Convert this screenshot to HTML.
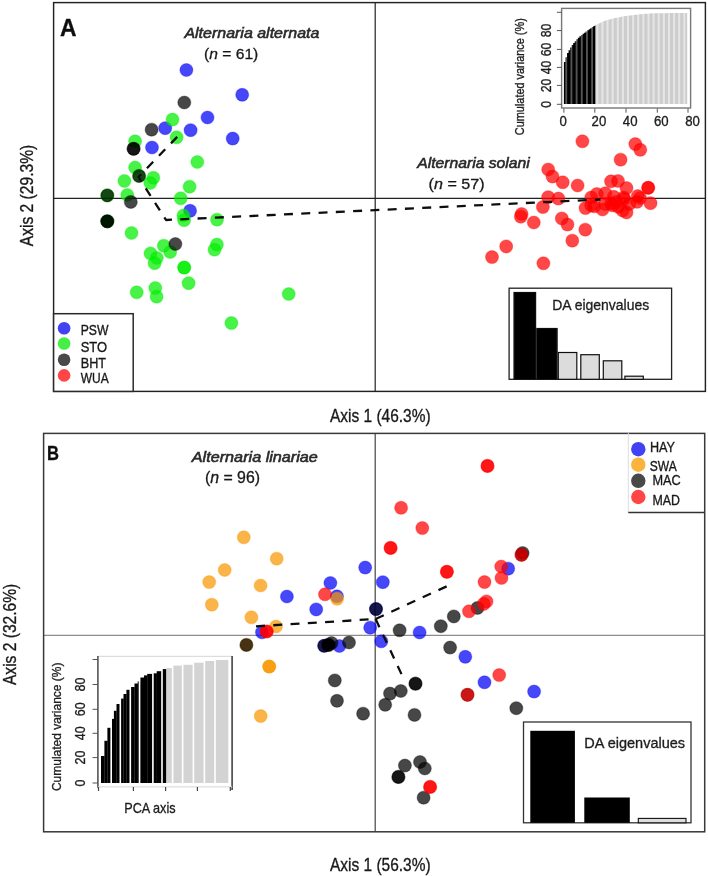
<!DOCTYPE html>
<html><head><meta charset="utf-8"><style>
html,body{margin:0;padding:0;background:#fff;}
svg{display:block;}
text{font-family:"Liberation Sans", sans-serif;}
</style></head><body>
<svg width="708" height="876" viewBox="0 0 708 876">
<defs><filter id="bl" x="0" y="0" width="1" height="1"><feGaussianBlur stdDeviation="0.35"/></filter></defs>
<rect width="708" height="876" fill="#fff"/>
<g filter="url(#bl)">
<rect width="708" height="876" fill="#fff"/>
<line x1="53.6" y1="198.3" x2="705.4" y2="198.3" stroke="#222" stroke-width="1.2"/>
<line x1="375.2" y1="2.6" x2="375.2" y2="391.4" stroke="#222" stroke-width="1.2"/>
<circle cx="186.4" cy="70.0" r="6.5" fill="#0000f8" fill-opacity="0.72" stroke="#0000f8" stroke-opacity="0.3" stroke-width="1.2"/>
<circle cx="242.2" cy="94.8" r="6.5" fill="#0000f8" fill-opacity="0.72" stroke="#0000f8" stroke-opacity="0.3" stroke-width="1.2"/>
<circle cx="207.5" cy="117.5" r="6.5" fill="#0000f8" fill-opacity="0.72" stroke="#0000f8" stroke-opacity="0.3" stroke-width="1.2"/>
<circle cx="165.2" cy="128.2" r="6.5" fill="#0000f8" fill-opacity="0.72" stroke="#0000f8" stroke-opacity="0.3" stroke-width="1.2"/>
<circle cx="190.6" cy="130.2" r="6.5" fill="#0000f8" fill-opacity="0.72" stroke="#0000f8" stroke-opacity="0.3" stroke-width="1.2"/>
<circle cx="232.7" cy="138.6" r="6.5" fill="#0000f8" fill-opacity="0.72" stroke="#0000f8" stroke-opacity="0.3" stroke-width="1.2"/>
<circle cx="152.0" cy="147.5" r="6.5" fill="#0000f8" fill-opacity="0.72" stroke="#0000f8" stroke-opacity="0.3" stroke-width="1.2"/>
<circle cx="190.1" cy="210.8" r="6.5" fill="#0000f8" fill-opacity="0.72" stroke="#0000f8" stroke-opacity="0.3" stroke-width="1.2"/>
<circle cx="172.5" cy="119.6" r="6.5" fill="#00ee00" fill-opacity="0.72" stroke="#00ee00" stroke-opacity="0.3" stroke-width="1.2"/>
<circle cx="176.6" cy="137.3" r="6.5" fill="#00ee00" fill-opacity="0.72" stroke="#00ee00" stroke-opacity="0.3" stroke-width="1.2"/>
<circle cx="135.1" cy="141.3" r="6.5" fill="#00ee00" fill-opacity="0.72" stroke="#00ee00" stroke-opacity="0.3" stroke-width="1.2"/>
<circle cx="197.3" cy="162.0" r="6.5" fill="#00ee00" fill-opacity="0.72" stroke="#00ee00" stroke-opacity="0.3" stroke-width="1.2"/>
<circle cx="135.1" cy="167.5" r="6.5" fill="#00ee00" fill-opacity="0.72" stroke="#00ee00" stroke-opacity="0.3" stroke-width="1.2"/>
<circle cx="153.4" cy="177.8" r="6.5" fill="#00ee00" fill-opacity="0.72" stroke="#00ee00" stroke-opacity="0.3" stroke-width="1.2"/>
<circle cx="150.3" cy="183.0" r="6.5" fill="#00ee00" fill-opacity="0.72" stroke="#00ee00" stroke-opacity="0.3" stroke-width="1.2"/>
<circle cx="124.4" cy="181.0" r="6.5" fill="#00ee00" fill-opacity="0.72" stroke="#00ee00" stroke-opacity="0.3" stroke-width="1.2"/>
<circle cx="189.6" cy="186.7" r="6.5" fill="#00ee00" fill-opacity="0.72" stroke="#00ee00" stroke-opacity="0.3" stroke-width="1.2"/>
<circle cx="127.3" cy="195.0" r="6.5" fill="#00ee00" fill-opacity="0.72" stroke="#00ee00" stroke-opacity="0.3" stroke-width="1.2"/>
<circle cx="180.7" cy="198.3" r="6.5" fill="#00ee00" fill-opacity="0.72" stroke="#00ee00" stroke-opacity="0.3" stroke-width="1.2"/>
<circle cx="183.4" cy="215.5" r="6.5" fill="#00ee00" fill-opacity="0.72" stroke="#00ee00" stroke-opacity="0.3" stroke-width="1.2"/>
<circle cx="184.1" cy="220.2" r="6.5" fill="#00ee00" fill-opacity="0.72" stroke="#00ee00" stroke-opacity="0.3" stroke-width="1.2"/>
<circle cx="217.0" cy="219.7" r="6.5" fill="#00ee00" fill-opacity="0.72" stroke="#00ee00" stroke-opacity="0.3" stroke-width="1.2"/>
<circle cx="131.5" cy="233.0" r="6.5" fill="#00ee00" fill-opacity="0.72" stroke="#00ee00" stroke-opacity="0.3" stroke-width="1.2"/>
<circle cx="163.8" cy="245.7" r="6.5" fill="#00ee00" fill-opacity="0.72" stroke="#00ee00" stroke-opacity="0.3" stroke-width="1.2"/>
<circle cx="170.2" cy="252.0" r="6.5" fill="#00ee00" fill-opacity="0.72" stroke="#00ee00" stroke-opacity="0.3" stroke-width="1.2"/>
<circle cx="150.5" cy="253.4" r="6.5" fill="#00ee00" fill-opacity="0.72" stroke="#00ee00" stroke-opacity="0.3" stroke-width="1.2"/>
<circle cx="156.8" cy="258.0" r="6.5" fill="#00ee00" fill-opacity="0.72" stroke="#00ee00" stroke-opacity="0.3" stroke-width="1.2"/>
<circle cx="154.6" cy="263.2" r="6.5" fill="#00ee00" fill-opacity="0.72" stroke="#00ee00" stroke-opacity="0.3" stroke-width="1.2"/>
<circle cx="216.9" cy="244.6" r="6.5" fill="#00ee00" fill-opacity="0.72" stroke="#00ee00" stroke-opacity="0.3" stroke-width="1.2"/>
<circle cx="214.5" cy="249.7" r="6.5" fill="#00ee00" fill-opacity="0.72" stroke="#00ee00" stroke-opacity="0.3" stroke-width="1.2"/>
<circle cx="184.2" cy="267.6" r="6.5" fill="#00ee00" fill-opacity="0.72" stroke="#00ee00" stroke-opacity="0.3" stroke-width="1.2"/>
<circle cx="188.6" cy="283.2" r="6.5" fill="#00ee00" fill-opacity="0.72" stroke="#00ee00" stroke-opacity="0.3" stroke-width="1.2"/>
<circle cx="136.7" cy="292.3" r="6.5" fill="#00ee00" fill-opacity="0.72" stroke="#00ee00" stroke-opacity="0.3" stroke-width="1.2"/>
<circle cx="155.3" cy="288.0" r="6.5" fill="#00ee00" fill-opacity="0.72" stroke="#00ee00" stroke-opacity="0.3" stroke-width="1.2"/>
<circle cx="156.6" cy="296.7" r="6.5" fill="#00ee00" fill-opacity="0.72" stroke="#00ee00" stroke-opacity="0.3" stroke-width="1.2"/>
<circle cx="288.7" cy="294.0" r="6.5" fill="#00ee00" fill-opacity="0.72" stroke="#00ee00" stroke-opacity="0.3" stroke-width="1.2"/>
<circle cx="231.4" cy="323.1" r="6.5" fill="#00ee00" fill-opacity="0.72" stroke="#00ee00" stroke-opacity="0.3" stroke-width="1.2"/>
<circle cx="139.1" cy="175.9" r="6.5" fill="#00ee00" fill-opacity="0.72" stroke="#00ee00" stroke-opacity="0.3" stroke-width="1.2"/>
<circle cx="107.3" cy="195.4" r="6.5" fill="#00ee00" fill-opacity="0.72" stroke="#00ee00" stroke-opacity="0.3" stroke-width="1.2"/>
<circle cx="107.3" cy="221.3" r="6.5" fill="#00ee00" fill-opacity="0.72" stroke="#00ee00" stroke-opacity="0.3" stroke-width="1.2"/>
<circle cx="184.2" cy="267.6" r="6.5" fill="#00ee00" fill-opacity="0.72" stroke="#00ee00" stroke-opacity="0.3" stroke-width="1.2"/>
<circle cx="184.3" cy="102.5" r="6.5" fill="#000000" fill-opacity="0.72" stroke="#000000" stroke-opacity="0.3" stroke-width="1.2"/>
<circle cx="151.6" cy="129.7" r="6.5" fill="#000000" fill-opacity="0.72" stroke="#000000" stroke-opacity="0.3" stroke-width="1.2"/>
<circle cx="133.6" cy="148.8" r="6.5" fill="#000000" fill-opacity="0.72" stroke="#000000" stroke-opacity="0.3" stroke-width="1.2"/>
<circle cx="133.6" cy="148.8" r="6.5" fill="#000000" fill-opacity="0.72" stroke="#000000" stroke-opacity="0.3" stroke-width="1.2"/>
<circle cx="139.1" cy="175.9" r="6.5" fill="#000000" fill-opacity="0.72" stroke="#000000" stroke-opacity="0.3" stroke-width="1.2"/>
<circle cx="107.3" cy="195.4" r="6.5" fill="#000000" fill-opacity="0.72" stroke="#000000" stroke-opacity="0.3" stroke-width="1.2"/>
<circle cx="130.8" cy="201.9" r="6.5" fill="#000000" fill-opacity="0.72" stroke="#000000" stroke-opacity="0.3" stroke-width="1.2"/>
<circle cx="107.3" cy="221.3" r="6.5" fill="#000000" fill-opacity="0.72" stroke="#000000" stroke-opacity="0.3" stroke-width="1.2"/>
<circle cx="107.3" cy="221.3" r="6.5" fill="#000000" fill-opacity="0.72" stroke="#000000" stroke-opacity="0.3" stroke-width="1.2"/>
<circle cx="175.4" cy="244.0" r="6.5" fill="#000000" fill-opacity="0.72" stroke="#000000" stroke-opacity="0.3" stroke-width="1.2"/>
<circle cx="582.4" cy="141.3" r="6.5" fill="#ff0000" fill-opacity="0.72" stroke="#ff0000" stroke-opacity="0.3" stroke-width="1.2"/>
<circle cx="635.3" cy="144.1" r="6.5" fill="#ff0000" fill-opacity="0.72" stroke="#ff0000" stroke-opacity="0.3" stroke-width="1.2"/>
<circle cx="640.3" cy="149.8" r="6.5" fill="#ff0000" fill-opacity="0.72" stroke="#ff0000" stroke-opacity="0.3" stroke-width="1.2"/>
<circle cx="620.6" cy="159.7" r="6.5" fill="#ff0000" fill-opacity="0.72" stroke="#ff0000" stroke-opacity="0.3" stroke-width="1.2"/>
<circle cx="548.2" cy="169.5" r="6.5" fill="#ff0000" fill-opacity="0.72" stroke="#ff0000" stroke-opacity="0.3" stroke-width="1.2"/>
<circle cx="552.5" cy="176.6" r="6.5" fill="#ff0000" fill-opacity="0.72" stroke="#ff0000" stroke-opacity="0.3" stroke-width="1.2"/>
<circle cx="562.7" cy="182.3" r="6.5" fill="#ff0000" fill-opacity="0.72" stroke="#ff0000" stroke-opacity="0.3" stroke-width="1.2"/>
<circle cx="577.6" cy="185.5" r="6.5" fill="#ff0000" fill-opacity="0.72" stroke="#ff0000" stroke-opacity="0.3" stroke-width="1.2"/>
<circle cx="611.0" cy="181.3" r="6.5" fill="#ff0000" fill-opacity="0.72" stroke="#ff0000" stroke-opacity="0.3" stroke-width="1.2"/>
<circle cx="618.0" cy="181.0" r="6.5" fill="#ff0000" fill-opacity="0.72" stroke="#ff0000" stroke-opacity="0.3" stroke-width="1.2"/>
<circle cx="626.5" cy="188.1" r="6.5" fill="#ff0000" fill-opacity="0.72" stroke="#ff0000" stroke-opacity="0.3" stroke-width="1.2"/>
<circle cx="648.2" cy="187.8" r="6.5" fill="#ff0000" fill-opacity="0.72" stroke="#ff0000" stroke-opacity="0.3" stroke-width="1.2"/>
<circle cx="648.2" cy="187.8" r="6.5" fill="#ff0000" fill-opacity="0.72" stroke="#ff0000" stroke-opacity="0.3" stroke-width="1.2"/>
<circle cx="548.2" cy="197.2" r="6.5" fill="#ff0000" fill-opacity="0.72" stroke="#ff0000" stroke-opacity="0.3" stroke-width="1.2"/>
<circle cx="558.4" cy="198.6" r="6.5" fill="#ff0000" fill-opacity="0.72" stroke="#ff0000" stroke-opacity="0.3" stroke-width="1.2"/>
<circle cx="542.9" cy="207.1" r="6.5" fill="#ff0000" fill-opacity="0.72" stroke="#ff0000" stroke-opacity="0.3" stroke-width="1.2"/>
<circle cx="521.6" cy="214.0" r="6.5" fill="#ff0000" fill-opacity="0.72" stroke="#ff0000" stroke-opacity="0.3" stroke-width="1.2"/>
<circle cx="520.8" cy="216.7" r="6.5" fill="#ff0000" fill-opacity="0.72" stroke="#ff0000" stroke-opacity="0.3" stroke-width="1.2"/>
<circle cx="533.8" cy="222.5" r="6.5" fill="#ff0000" fill-opacity="0.72" stroke="#ff0000" stroke-opacity="0.3" stroke-width="1.2"/>
<circle cx="561.8" cy="218.4" r="6.5" fill="#ff0000" fill-opacity="0.72" stroke="#ff0000" stroke-opacity="0.3" stroke-width="1.2"/>
<circle cx="567.5" cy="224.6" r="6.5" fill="#ff0000" fill-opacity="0.72" stroke="#ff0000" stroke-opacity="0.3" stroke-width="1.2"/>
<circle cx="585.3" cy="229.7" r="6.5" fill="#ff0000" fill-opacity="0.72" stroke="#ff0000" stroke-opacity="0.3" stroke-width="1.2"/>
<circle cx="572.3" cy="240.7" r="6.5" fill="#ff0000" fill-opacity="0.72" stroke="#ff0000" stroke-opacity="0.3" stroke-width="1.2"/>
<circle cx="506.2" cy="246.4" r="6.5" fill="#ff0000" fill-opacity="0.72" stroke="#ff0000" stroke-opacity="0.3" stroke-width="1.2"/>
<circle cx="492.0" cy="257.1" r="6.5" fill="#ff0000" fill-opacity="0.72" stroke="#ff0000" stroke-opacity="0.3" stroke-width="1.2"/>
<circle cx="543.4" cy="263.3" r="6.5" fill="#ff0000" fill-opacity="0.72" stroke="#ff0000" stroke-opacity="0.3" stroke-width="1.2"/>
<circle cx="591.2" cy="197.5" r="6.5" fill="#ff0000" fill-opacity="0.72" stroke="#ff0000" stroke-opacity="0.3" stroke-width="1.2"/>
<circle cx="596.8" cy="194.0" r="6.5" fill="#ff0000" fill-opacity="0.72" stroke="#ff0000" stroke-opacity="0.3" stroke-width="1.2"/>
<circle cx="605.3" cy="193.3" r="6.5" fill="#ff0000" fill-opacity="0.72" stroke="#ff0000" stroke-opacity="0.3" stroke-width="1.2"/>
<circle cx="613.8" cy="196.8" r="6.5" fill="#ff0000" fill-opacity="0.72" stroke="#ff0000" stroke-opacity="0.3" stroke-width="1.2"/>
<circle cx="623.7" cy="197.5" r="6.5" fill="#ff0000" fill-opacity="0.72" stroke="#ff0000" stroke-opacity="0.3" stroke-width="1.2"/>
<circle cx="637.8" cy="196.1" r="6.5" fill="#ff0000" fill-opacity="0.72" stroke="#ff0000" stroke-opacity="0.3" stroke-width="1.2"/>
<circle cx="585.5" cy="208.1" r="6.5" fill="#ff0000" fill-opacity="0.72" stroke="#ff0000" stroke-opacity="0.3" stroke-width="1.2"/>
<circle cx="591.2" cy="205.3" r="6.5" fill="#ff0000" fill-opacity="0.72" stroke="#ff0000" stroke-opacity="0.3" stroke-width="1.2"/>
<circle cx="602.5" cy="209.5" r="6.5" fill="#ff0000" fill-opacity="0.72" stroke="#ff0000" stroke-opacity="0.3" stroke-width="1.2"/>
<circle cx="612.4" cy="205.3" r="6.5" fill="#ff0000" fill-opacity="0.72" stroke="#ff0000" stroke-opacity="0.3" stroke-width="1.2"/>
<circle cx="618.0" cy="206.7" r="6.5" fill="#ff0000" fill-opacity="0.72" stroke="#ff0000" stroke-opacity="0.3" stroke-width="1.2"/>
<circle cx="626.5" cy="212.4" r="6.5" fill="#ff0000" fill-opacity="0.72" stroke="#ff0000" stroke-opacity="0.3" stroke-width="1.2"/>
<circle cx="637.1" cy="201.8" r="6.5" fill="#ff0000" fill-opacity="0.72" stroke="#ff0000" stroke-opacity="0.3" stroke-width="1.2"/>
<circle cx="650.5" cy="203.2" r="6.5" fill="#ff0000" fill-opacity="0.72" stroke="#ff0000" stroke-opacity="0.3" stroke-width="1.2"/>
<circle cx="629.3" cy="203.9" r="6.5" fill="#ff0000" fill-opacity="0.72" stroke="#ff0000" stroke-opacity="0.3" stroke-width="1.2"/>
<circle cx="594.3" cy="206.3" r="6.5" fill="#ff0000" fill-opacity="0.72" stroke="#ff0000" stroke-opacity="0.3" stroke-width="1.2"/>
<circle cx="611.2" cy="203.4" r="6.5" fill="#ff0000" fill-opacity="0.72" stroke="#ff0000" stroke-opacity="0.3" stroke-width="1.2"/>
<circle cx="622.5" cy="210.5" r="6.5" fill="#ff0000" fill-opacity="0.72" stroke="#ff0000" stroke-opacity="0.3" stroke-width="1.2"/>
<circle cx="624.0" cy="199.0" r="6.5" fill="#ff0000" fill-opacity="0.72" stroke="#ff0000" stroke-opacity="0.3" stroke-width="1.2"/>
<circle cx="616.0" cy="202.0" r="6.5" fill="#ff0000" fill-opacity="0.72" stroke="#ff0000" stroke-opacity="0.3" stroke-width="1.2"/>
<circle cx="640.0" cy="198.0" r="6.5" fill="#ff0000" fill-opacity="0.72" stroke="#ff0000" stroke-opacity="0.3" stroke-width="1.2"/>
<circle cx="605.0" cy="204.0" r="6.5" fill="#ff0000" fill-opacity="0.72" stroke="#ff0000" stroke-opacity="0.3" stroke-width="1.2"/>
<polyline points="180,134 138.5,177 166,220 600.5,199.5" fill="none" stroke="#111" stroke-width="2.3" stroke-dasharray="9 8.3" stroke-dashoffset="-4" stroke-linejoin="round"/>
<rect x="53.6" y="2.6" width="651.8" height="388.79999999999995" fill="none" stroke="#222" stroke-width="1.45"/>
<text x="0" y="0" font-size="22" font-weight="bold" font-style="normal" text-anchor="start" fill="#111" stroke="#111" stroke-width="0.3" textLength="16.5" lengthAdjust="spacingAndGlyphs" transform="translate(60,35.6) scale(1,1.1)" >A</text>
<text x="184.4" y="37.8" font-size="14.5" font-weight="normal" font-style="italic" text-anchor="start" fill="#2a2a2a" stroke="#2a2a2a" stroke-width="0.55" textLength="135" lengthAdjust="spacingAndGlyphs" >Alternaria alternata</text>
<text x="204" y="59.2" font-size="15" font-weight="normal" font-style="normal" text-anchor="start" fill="#1a1a1a" stroke="#1a1a1a" stroke-width="0.3" textLength="54.3" lengthAdjust="spacingAndGlyphs" >(<tspan font-style="italic">n</tspan> = 61)</text>
<text x="417.2" y="167.5" font-size="14.5" font-weight="normal" font-style="italic" text-anchor="start" fill="#2a2a2a" stroke="#2a2a2a" stroke-width="0.55" textLength="112.6" lengthAdjust="spacingAndGlyphs" >Alternaria solani</text>
<text x="428.6" y="188.8" font-size="15" font-weight="normal" font-style="normal" text-anchor="start" fill="#1a1a1a" stroke="#1a1a1a" stroke-width="0.3" textLength="56" lengthAdjust="spacingAndGlyphs" >(<tspan font-style="italic">n</tspan> = 57)</text>
<rect x="53.6" y="313.7" width="79.6" height="77.69999999999999" fill="#fff" stroke="#2a2a2a" stroke-width="1.5"/>
<circle cx="64.1" cy="328.3" r="6.3" fill="#4343f2"/>
<text x="0" y="0" font-size="12.6" font-weight="normal" font-style="normal" text-anchor="start" fill="#1a1a1a" stroke="#1a1a1a" stroke-width="0.3" textLength="27.7" lengthAdjust="spacingAndGlyphs" transform="translate(80.7,334.5) scale(1,1.17)" >PSW</text>
<circle cx="64.1" cy="343.5" r="6.3" fill="#44ef44"/>
<text x="0" y="0" font-size="12.6" font-weight="normal" font-style="normal" text-anchor="start" fill="#1a1a1a" stroke="#1a1a1a" stroke-width="0.3" textLength="26.4" lengthAdjust="spacingAndGlyphs" transform="translate(80.7,352) scale(1,1.17)" >STO</text>
<circle cx="64.1" cy="359.8" r="6.3" fill="#484848"/>
<text x="0" y="0" font-size="12.6" font-weight="normal" font-style="normal" text-anchor="start" fill="#1a1a1a" stroke="#1a1a1a" stroke-width="0.3" textLength="25.3" lengthAdjust="spacingAndGlyphs" transform="translate(80.7,367.6) scale(1,1.17)" >BHT</text>
<circle cx="64.1" cy="375.4" r="6.3" fill="#ff4545"/>
<text x="0" y="0" font-size="12.6" font-weight="normal" font-style="normal" text-anchor="start" fill="#1a1a1a" stroke="#1a1a1a" stroke-width="0.3" textLength="28" lengthAdjust="spacingAndGlyphs" transform="translate(80.7,383.1) scale(1,1.17)" >WUA</text>
<text x="0" y="0" font-size="15.6" font-weight="normal" font-style="normal" text-anchor="middle" fill="#1a1a1a" stroke="#1a1a1a" stroke-width="0.3" textLength="101.5" lengthAdjust="spacingAndGlyphs" transform="translate(33.3,195.5) rotate(-90) scale(1,1.14)" >Axis 2 (29.3%)</text>
<text x="0" y="0" font-size="16.3" font-weight="normal" font-style="normal" text-anchor="start" fill="#1a1a1a" stroke="#1a1a1a" stroke-width="0.3" textLength="100.6" lengthAdjust="spacingAndGlyphs" transform="translate(330,421.6) scale(1,1.13)" >Axis 1 (46.3%)</text>
<rect x="509.1" y="288.2" width="162.5" height="91.1" fill="#fff" stroke="#222" stroke-width="1.3"/>
<rect x="514" y="292.5" width="21.600000000000023" height="86.80000000000001" fill="#000" stroke="#111" stroke-width="1.2"/>
<rect x="536.8" y="328.5" width="20.300000000000068" height="50.80000000000001" fill="#000" stroke="#111" stroke-width="1.2"/>
<rect x="558.3" y="352.5" width="18.5" height="26.80000000000001" fill="#dcdcdc" stroke="#111" stroke-width="1.2"/>
<rect x="580.8" y="354.7" width="18.5" height="24.600000000000023" fill="#dcdcdc" stroke="#111" stroke-width="1.2"/>
<rect x="603.3" y="360.8" width="18.5" height="18.5" fill="#dcdcdc" stroke="#111" stroke-width="1.2"/>
<rect x="624.9" y="376.2" width="18.399999999999977" height="3.1000000000000227" fill="#dcdcdc" stroke="#111" stroke-width="1.2"/>
<text x="0" y="0" font-size="13.6" font-weight="normal" font-style="normal" text-anchor="start" fill="#1e1e1e" stroke="#1e1e1e" stroke-width="0.3" textLength="97" lengthAdjust="spacingAndGlyphs" transform="translate(552.2,310.4) scale(1,1.12)" >DA eigenvalues</text>
<rect x="561.6" y="8.4" width="129" height="99.6" fill="#fff" stroke="#777" stroke-width="1.4"/>
<path d="M563.90,103.90 L563.90,61.96 L565.45,61.96 L565.45,57.33 L567.00,57.33 L567.00,53.10 L568.55,53.10 L568.55,50.13 L570.10,50.13 L570.10,47.54 L571.65,47.54 L571.65,45.07 L573.20,45.07 L573.20,43.06 L574.75,43.06 L574.75,41.19 L576.30,41.19 L576.30,39.37 L577.85,39.37 L577.85,37.78 L579.40,37.78 L579.40,36.19 L580.95,36.19 L580.95,34.90 L582.50,34.90 L582.50,33.78 L584.05,33.78 L584.05,32.65 L585.60,32.65 L585.60,31.49 L587.15,31.49 L587.15,30.34 L588.70,30.34 L588.70,29.19 L590.25,29.19 L590.25,28.15 L591.80,28.15 L591.80,27.11 L593.35,27.11 L593.35,26.07 L594.90,26.07 L594.90,25.23 L595.60,25.23 L595.60,103.90 Z" fill="#000"/>
<path d="M595.60,103.90 L595.60,24.87 L597.15,24.87 L597.15,24.09 L598.70,24.09 L598.70,23.31 L600.25,23.31 L600.25,22.52 L601.80,22.52 L601.80,21.74 L603.35,21.74 L603.35,20.96 L604.90,20.96 L604.90,20.48 L606.45,20.48 L606.45,20.06 L608.00,20.06 L608.00,19.65 L609.55,19.65 L609.55,19.24 L611.10,19.24 L611.10,18.82 L612.65,18.82 L612.65,18.41 L614.20,18.41 L614.20,18.05 L615.75,18.05 L615.75,17.75 L617.30,17.75 L617.30,17.45 L618.85,17.45 L618.85,17.15 L620.40,17.15 L620.40,16.85 L621.95,16.85 L621.95,16.55 L623.50,16.55 L623.50,16.26 L625.05,16.26 L625.05,16.04 L626.60,16.04 L626.60,15.83 L628.15,15.83 L628.15,15.62 L629.70,15.62 L629.70,15.40 L631.25,15.40 L631.25,15.19 L632.80,15.19 L632.80,14.97 L634.35,14.97 L634.35,14.80 L635.90,14.80 L635.90,14.64 L637.45,14.64 L637.45,14.48 L639.00,14.48 L639.00,14.33 L640.55,14.33 L640.55,14.17 L642.10,14.17 L642.10,14.01 L643.65,14.01 L643.65,13.87 L645.20,13.87 L645.20,13.77 L646.75,13.77 L646.75,13.67 L648.30,13.67 L648.30,13.57 L649.85,13.57 L649.85,13.47 L651.40,13.47 L651.40,13.37 L652.95,13.37 L652.95,13.28 L654.50,13.28 L654.50,13.25 L656.05,13.25 L656.05,13.23 L657.60,13.23 L657.60,13.22 L659.15,13.22 L659.15,13.20 L660.70,13.20 L660.70,13.18 L662.25,13.18 L662.25,13.16 L663.80,13.16 L663.80,13.15 L665.35,13.15 L665.35,13.13 L666.90,13.13 L666.90,13.11 L668.45,13.11 L668.45,13.10 L670.00,13.10 L670.00,13.08 L671.55,13.08 L671.55,13.06 L673.10,13.06 L673.10,13.05 L674.65,13.05 L674.65,13.03 L676.20,13.03 L676.20,13.01 L677.75,13.01 L677.75,12.99 L679.30,12.99 L679.30,12.98 L680.85,12.98 L680.85,12.96 L682.40,12.96 L682.40,12.94 L683.95,12.94 L683.95,12.93 L685.50,12.93 L685.50,12.91 L687.05,12.91 L687.05,12.90 L687.20,12.90 L687.20,103.90 Z" fill="#cdcdcd"/>
<g fill="#fff" fill-opacity="0.33"><rect x="565.30" y="10" width="1.9" height="94"/><rect x="570.47" y="10" width="1.9" height="94"/><rect x="575.64" y="10" width="1.9" height="94"/><rect x="580.81" y="10" width="1.9" height="94"/><rect x="585.98" y="10" width="1.9" height="94"/><rect x="591.15" y="10" width="1.9" height="94"/></g>
<g fill="#fff" fill-opacity="0.5"><rect x="596.30" y="10" width="2.0" height="94"/><rect x="601.42" y="10" width="2.0" height="94"/><rect x="606.54" y="10" width="2.0" height="94"/><rect x="611.66" y="10" width="2.0" height="94"/><rect x="616.78" y="10" width="2.0" height="94"/><rect x="621.90" y="10" width="2.0" height="94"/><rect x="627.02" y="10" width="2.0" height="94"/><rect x="632.14" y="10" width="2.0" height="94"/><rect x="637.26" y="10" width="2.0" height="94"/><rect x="642.38" y="10" width="2.0" height="94"/><rect x="647.50" y="10" width="2.0" height="94"/><rect x="652.62" y="10" width="2.0" height="94"/><rect x="657.74" y="10" width="2.0" height="94"/><rect x="662.86" y="10" width="2.0" height="94"/><rect x="667.98" y="10" width="2.0" height="94"/><rect x="673.10" y="10" width="2.0" height="94"/><rect x="678.22" y="10" width="2.0" height="94"/><rect x="683.34" y="10" width="2.0" height="94"/></g>
<line x1="556.9" y1="12.3" x2="561.8" y2="12.3" stroke="#555" stroke-width="1"/>
<line x1="556.9" y1="30.6" x2="561.8" y2="30.6" stroke="#555" stroke-width="1"/>
<line x1="556.9" y1="49.4" x2="561.8" y2="49.4" stroke="#555" stroke-width="1"/>
<line x1="556.9" y1="67.4" x2="561.8" y2="67.4" stroke="#555" stroke-width="1"/>
<line x1="556.9" y1="85.4" x2="561.8" y2="85.4" stroke="#555" stroke-width="1"/>
<line x1="556.9" y1="104.3" x2="561.8" y2="104.3" stroke="#555" stroke-width="1"/>
<line x1="563.9" y1="108.5" x2="563.9" y2="112.7" stroke="#555" stroke-width="1"/>
<line x1="594.8" y1="108.5" x2="594.8" y2="112.7" stroke="#555" stroke-width="1"/>
<line x1="626" y1="108.5" x2="626" y2="112.7" stroke="#555" stroke-width="1"/>
<line x1="657.3" y1="108.5" x2="657.3" y2="112.7" stroke="#555" stroke-width="1"/>
<line x1="688" y1="108.5" x2="688" y2="112.7" stroke="#555" stroke-width="1"/>
<text x="0" y="0" font-size="13.2" font-weight="normal" font-style="normal" text-anchor="middle" fill="#1e1e1e" stroke="#1e1e1e" stroke-width="0.3" transform="translate(563.2,126.3) scale(1,1.14)" >0</text>
<text x="0" y="0" font-size="13.2" font-weight="normal" font-style="normal" text-anchor="middle" fill="#1e1e1e" stroke="#1e1e1e" stroke-width="0.3" transform="translate(598.9,126.3) scale(1,1.14)" >20</text>
<text x="0" y="0" font-size="13.2" font-weight="normal" font-style="normal" text-anchor="middle" fill="#1e1e1e" stroke="#1e1e1e" stroke-width="0.3" transform="translate(630.2,126.3) scale(1,1.14)" >40</text>
<text x="0" y="0" font-size="13.2" font-weight="normal" font-style="normal" text-anchor="middle" fill="#1e1e1e" stroke="#1e1e1e" stroke-width="0.3" transform="translate(661.3,126.3) scale(1,1.14)" >60</text>
<text x="0" y="0" font-size="13.2" font-weight="normal" font-style="normal" text-anchor="middle" fill="#1e1e1e" stroke="#1e1e1e" stroke-width="0.3" transform="translate(692.5,126.3) scale(1,1.14)" >80</text>
<text x="0" y="0" font-size="12.2" font-weight="normal" font-style="normal" text-anchor="middle" fill="#1e1e1e" stroke="#1e1e1e" stroke-width="0.3" transform="translate(550.8,104.3) rotate(-90) scale(1,1.15)" >0</text>
<text x="0" y="0" font-size="12.2" font-weight="normal" font-style="normal" text-anchor="middle" fill="#1e1e1e" stroke="#1e1e1e" stroke-width="0.3" transform="translate(550.8,85.4) rotate(-90) scale(1,1.15)" >20</text>
<text x="0" y="0" font-size="12.2" font-weight="normal" font-style="normal" text-anchor="middle" fill="#1e1e1e" stroke="#1e1e1e" stroke-width="0.3" transform="translate(550.8,67.4) rotate(-90) scale(1,1.15)" >40</text>
<text x="0" y="0" font-size="12.2" font-weight="normal" font-style="normal" text-anchor="middle" fill="#1e1e1e" stroke="#1e1e1e" stroke-width="0.3" transform="translate(550.8,49.4) rotate(-90) scale(1,1.15)" >60</text>
<text x="0" y="0" font-size="12.2" font-weight="normal" font-style="normal" text-anchor="middle" fill="#1e1e1e" stroke="#1e1e1e" stroke-width="0.3" transform="translate(550.8,30.6) rotate(-90) scale(1,1.15)" >80</text>
<text x="0" y="0" font-size="10.9" font-weight="normal" font-style="normal" text-anchor="middle" fill="#1e1e1e" stroke="#1e1e1e" stroke-width="0.3" textLength="117" lengthAdjust="spacingAndGlyphs" transform="translate(524.3,76.7) rotate(-90) scale(1,1.15)" >Cumulated variance (%)</text>
<line x1="43.6" y1="635.3" x2="704.7" y2="635.3" stroke="#707070" stroke-width="1.0"/>
<line x1="375.2" y1="433.4" x2="375.2" y2="831.8" stroke="#444" stroke-width="1.2"/>
<circle cx="376.0" cy="609.1" r="6.5" fill="#0000f8" fill-opacity="0.72" stroke="#0000f8" stroke-opacity="0.3" stroke-width="1.2"/>
<circle cx="324.2" cy="645.8" r="6.5" fill="#0000f8" fill-opacity="0.72" stroke="#0000f8" stroke-opacity="0.3" stroke-width="1.2"/>
<circle cx="246.4" cy="644.9" r="6.5" fill="#f89700" fill-opacity="0.72" stroke="#f89700" stroke-opacity="0.3" stroke-width="1.2"/>
<circle cx="521.5" cy="554.8" r="6.5" fill="#000000" fill-opacity="0.72" stroke="#000000" stroke-opacity="0.3" stroke-width="1.2"/>
<circle cx="467.5" cy="694.8" r="6.5" fill="#000000" fill-opacity="0.72" stroke="#000000" stroke-opacity="0.3" stroke-width="1.2"/>
<circle cx="269.2" cy="666.6" r="6.5" fill="#f89700" fill-opacity="0.72" stroke="#f89700" stroke-opacity="0.3" stroke-width="1.2"/>
<circle cx="365.2" cy="567.6" r="6.5" fill="#0000f8" fill-opacity="0.72" stroke="#0000f8" stroke-opacity="0.3" stroke-width="1.2"/>
<circle cx="382.8" cy="582.2" r="6.5" fill="#0000f8" fill-opacity="0.72" stroke="#0000f8" stroke-opacity="0.3" stroke-width="1.2"/>
<circle cx="330.4" cy="583.0" r="6.5" fill="#0000f8" fill-opacity="0.72" stroke="#0000f8" stroke-opacity="0.3" stroke-width="1.2"/>
<circle cx="336.9" cy="596.3" r="6.5" fill="#0000f8" fill-opacity="0.72" stroke="#0000f8" stroke-opacity="0.3" stroke-width="1.2"/>
<circle cx="286.9" cy="596.5" r="6.5" fill="#0000f8" fill-opacity="0.72" stroke="#0000f8" stroke-opacity="0.3" stroke-width="1.2"/>
<circle cx="316.2" cy="609.4" r="6.5" fill="#0000f8" fill-opacity="0.72" stroke="#0000f8" stroke-opacity="0.3" stroke-width="1.2"/>
<circle cx="370.2" cy="627.7" r="6.5" fill="#0000f8" fill-opacity="0.72" stroke="#0000f8" stroke-opacity="0.3" stroke-width="1.2"/>
<circle cx="262.0" cy="632.3" r="6.5" fill="#0000f8" fill-opacity="0.72" stroke="#0000f8" stroke-opacity="0.3" stroke-width="1.2"/>
<circle cx="381.3" cy="641.3" r="6.5" fill="#0000f8" fill-opacity="0.72" stroke="#0000f8" stroke-opacity="0.3" stroke-width="1.2"/>
<circle cx="339.4" cy="646.0" r="6.5" fill="#0000f8" fill-opacity="0.72" stroke="#0000f8" stroke-opacity="0.3" stroke-width="1.2"/>
<circle cx="419.6" cy="632.5" r="6.5" fill="#0000f8" fill-opacity="0.72" stroke="#0000f8" stroke-opacity="0.3" stroke-width="1.2"/>
<circle cx="465.3" cy="656.8" r="6.5" fill="#0000f8" fill-opacity="0.72" stroke="#0000f8" stroke-opacity="0.3" stroke-width="1.2"/>
<circle cx="484.5" cy="682.3" r="6.5" fill="#0000f8" fill-opacity="0.72" stroke="#0000f8" stroke-opacity="0.3" stroke-width="1.2"/>
<circle cx="534.1" cy="691.6" r="6.5" fill="#0000f8" fill-opacity="0.72" stroke="#0000f8" stroke-opacity="0.3" stroke-width="1.2"/>
<circle cx="508.2" cy="568.7" r="6.5" fill="#0000f8" fill-opacity="0.72" stroke="#0000f8" stroke-opacity="0.3" stroke-width="1.2"/>
<circle cx="243.8" cy="537.3" r="6.5" fill="#f89700" fill-opacity="0.72" stroke="#f89700" stroke-opacity="0.3" stroke-width="1.2"/>
<circle cx="276.7" cy="558.7" r="6.5" fill="#f89700" fill-opacity="0.72" stroke="#f89700" stroke-opacity="0.3" stroke-width="1.2"/>
<circle cx="224.7" cy="570.0" r="6.5" fill="#f89700" fill-opacity="0.72" stroke="#f89700" stroke-opacity="0.3" stroke-width="1.2"/>
<circle cx="209.2" cy="582.1" r="6.5" fill="#f89700" fill-opacity="0.72" stroke="#f89700" stroke-opacity="0.3" stroke-width="1.2"/>
<circle cx="260.6" cy="585.5" r="6.5" fill="#f89700" fill-opacity="0.72" stroke="#f89700" stroke-opacity="0.3" stroke-width="1.2"/>
<circle cx="211.8" cy="604.7" r="6.5" fill="#f89700" fill-opacity="0.72" stroke="#f89700" stroke-opacity="0.3" stroke-width="1.2"/>
<circle cx="251.4" cy="617.3" r="6.5" fill="#f89700" fill-opacity="0.72" stroke="#f89700" stroke-opacity="0.3" stroke-width="1.2"/>
<circle cx="276.0" cy="626.5" r="6.5" fill="#f89700" fill-opacity="0.72" stroke="#f89700" stroke-opacity="0.3" stroke-width="1.2"/>
<circle cx="269.2" cy="666.6" r="6.5" fill="#f89700" fill-opacity="0.72" stroke="#f89700" stroke-opacity="0.3" stroke-width="1.2"/>
<circle cx="260.7" cy="716.1" r="6.5" fill="#f89700" fill-opacity="0.72" stroke="#f89700" stroke-opacity="0.3" stroke-width="1.2"/>
<circle cx="337.1" cy="598.8" r="6.5" fill="#f89700" fill-opacity="0.72" stroke="#f89700" stroke-opacity="0.3" stroke-width="1.2"/>
<circle cx="331.5" cy="643.0" r="6.5" fill="#000000" fill-opacity="0.72" stroke="#000000" stroke-opacity="0.3" stroke-width="1.2"/>
<circle cx="349.0" cy="642.5" r="6.5" fill="#000000" fill-opacity="0.72" stroke="#000000" stroke-opacity="0.3" stroke-width="1.2"/>
<circle cx="399.6" cy="630.3" r="6.5" fill="#000000" fill-opacity="0.72" stroke="#000000" stroke-opacity="0.3" stroke-width="1.2"/>
<circle cx="440.8" cy="626.2" r="6.5" fill="#000000" fill-opacity="0.72" stroke="#000000" stroke-opacity="0.3" stroke-width="1.2"/>
<circle cx="453.8" cy="616.4" r="6.5" fill="#000000" fill-opacity="0.72" stroke="#000000" stroke-opacity="0.3" stroke-width="1.2"/>
<circle cx="477.5" cy="607.9" r="6.5" fill="#000000" fill-opacity="0.72" stroke="#000000" stroke-opacity="0.3" stroke-width="1.2"/>
<circle cx="450.1" cy="647.6" r="6.5" fill="#000000" fill-opacity="0.72" stroke="#000000" stroke-opacity="0.3" stroke-width="1.2"/>
<circle cx="522.6" cy="553.0" r="6.5" fill="#000000" fill-opacity="0.72" stroke="#000000" stroke-opacity="0.3" stroke-width="1.2"/>
<circle cx="516.3" cy="708.2" r="6.5" fill="#000000" fill-opacity="0.72" stroke="#000000" stroke-opacity="0.3" stroke-width="1.2"/>
<circle cx="334.8" cy="680.4" r="6.5" fill="#000000" fill-opacity="0.72" stroke="#000000" stroke-opacity="0.3" stroke-width="1.2"/>
<circle cx="337.0" cy="700.8" r="6.5" fill="#000000" fill-opacity="0.72" stroke="#000000" stroke-opacity="0.3" stroke-width="1.2"/>
<circle cx="363.1" cy="713.7" r="6.5" fill="#000000" fill-opacity="0.72" stroke="#000000" stroke-opacity="0.3" stroke-width="1.2"/>
<circle cx="400.8" cy="691.0" r="6.5" fill="#000000" fill-opacity="0.72" stroke="#000000" stroke-opacity="0.3" stroke-width="1.2"/>
<circle cx="390.0" cy="693.6" r="6.5" fill="#000000" fill-opacity="0.72" stroke="#000000" stroke-opacity="0.3" stroke-width="1.2"/>
<circle cx="385.2" cy="704.8" r="6.5" fill="#000000" fill-opacity="0.72" stroke="#000000" stroke-opacity="0.3" stroke-width="1.2"/>
<circle cx="414.5" cy="714.9" r="6.5" fill="#000000" fill-opacity="0.72" stroke="#000000" stroke-opacity="0.3" stroke-width="1.2"/>
<circle cx="404.9" cy="765.6" r="6.5" fill="#000000" fill-opacity="0.72" stroke="#000000" stroke-opacity="0.3" stroke-width="1.2"/>
<circle cx="420.0" cy="762.0" r="6.5" fill="#000000" fill-opacity="0.72" stroke="#000000" stroke-opacity="0.3" stroke-width="1.2"/>
<circle cx="424.8" cy="768.5" r="6.5" fill="#000000" fill-opacity="0.72" stroke="#000000" stroke-opacity="0.3" stroke-width="1.2"/>
<circle cx="423.6" cy="797.7" r="6.5" fill="#000000" fill-opacity="0.72" stroke="#000000" stroke-opacity="0.3" stroke-width="1.2"/>
<circle cx="376.0" cy="609.1" r="6.5" fill="#000000" fill-opacity="0.72" stroke="#000000" stroke-opacity="0.3" stroke-width="1.2"/>
<circle cx="324.2" cy="645.8" r="6.5" fill="#000000" fill-opacity="0.72" stroke="#000000" stroke-opacity="0.3" stroke-width="1.2"/>
<circle cx="328.5" cy="644.9" r="6.5" fill="#000000" fill-opacity="0.72" stroke="#000000" stroke-opacity="0.3" stroke-width="1.2"/>
<circle cx="328.5" cy="644.9" r="6.5" fill="#000000" fill-opacity="0.72" stroke="#000000" stroke-opacity="0.3" stroke-width="1.2"/>
<circle cx="415.5" cy="683.7" r="6.5" fill="#000000" fill-opacity="0.72" stroke="#000000" stroke-opacity="0.3" stroke-width="1.2"/>
<circle cx="415.5" cy="683.7" r="6.5" fill="#000000" fill-opacity="0.72" stroke="#000000" stroke-opacity="0.3" stroke-width="1.2"/>
<circle cx="398.4" cy="776.9" r="6.5" fill="#000000" fill-opacity="0.72" stroke="#000000" stroke-opacity="0.3" stroke-width="1.2"/>
<circle cx="398.4" cy="776.9" r="6.5" fill="#000000" fill-opacity="0.72" stroke="#000000" stroke-opacity="0.3" stroke-width="1.2"/>
<circle cx="246.4" cy="644.9" r="6.5" fill="#000000" fill-opacity="0.72" stroke="#000000" stroke-opacity="0.3" stroke-width="1.2"/>
<circle cx="487.5" cy="465.9" r="6.5" fill="#ff0000" fill-opacity="0.72" stroke="#ff0000" stroke-opacity="0.3" stroke-width="1.2"/>
<circle cx="487.5" cy="465.9" r="6.5" fill="#ff0000" fill-opacity="0.72" stroke="#ff0000" stroke-opacity="0.3" stroke-width="1.2"/>
<circle cx="401.1" cy="507.8" r="6.5" fill="#ff0000" fill-opacity="0.72" stroke="#ff0000" stroke-opacity="0.3" stroke-width="1.2"/>
<circle cx="422.3" cy="528.1" r="6.5" fill="#ff0000" fill-opacity="0.72" stroke="#ff0000" stroke-opacity="0.3" stroke-width="1.2"/>
<circle cx="390.6" cy="547.9" r="6.5" fill="#ff0000" fill-opacity="0.72" stroke="#ff0000" stroke-opacity="0.3" stroke-width="1.2"/>
<circle cx="390.6" cy="547.9" r="6.5" fill="#ff0000" fill-opacity="0.72" stroke="#ff0000" stroke-opacity="0.3" stroke-width="1.2"/>
<circle cx="446.9" cy="571.8" r="6.5" fill="#ff0000" fill-opacity="0.72" stroke="#ff0000" stroke-opacity="0.3" stroke-width="1.2"/>
<circle cx="446.9" cy="571.8" r="6.5" fill="#ff0000" fill-opacity="0.72" stroke="#ff0000" stroke-opacity="0.3" stroke-width="1.2"/>
<circle cx="521.5" cy="554.8" r="6.5" fill="#ff0000" fill-opacity="0.72" stroke="#ff0000" stroke-opacity="0.3" stroke-width="1.2"/>
<circle cx="501.2" cy="566.5" r="6.5" fill="#ff0000" fill-opacity="0.72" stroke="#ff0000" stroke-opacity="0.3" stroke-width="1.2"/>
<circle cx="501.5" cy="578.0" r="6.5" fill="#ff0000" fill-opacity="0.72" stroke="#ff0000" stroke-opacity="0.3" stroke-width="1.2"/>
<circle cx="484.5" cy="582.1" r="6.5" fill="#ff0000" fill-opacity="0.72" stroke="#ff0000" stroke-opacity="0.3" stroke-width="1.2"/>
<circle cx="486.5" cy="601.4" r="6.5" fill="#ff0000" fill-opacity="0.72" stroke="#ff0000" stroke-opacity="0.3" stroke-width="1.2"/>
<circle cx="483.7" cy="603.9" r="6.5" fill="#ff0000" fill-opacity="0.72" stroke="#ff0000" stroke-opacity="0.3" stroke-width="1.2"/>
<circle cx="469.0" cy="611.3" r="6.5" fill="#ff0000" fill-opacity="0.72" stroke="#ff0000" stroke-opacity="0.3" stroke-width="1.2"/>
<circle cx="325.0" cy="594.3" r="6.5" fill="#ff0000" fill-opacity="0.72" stroke="#ff0000" stroke-opacity="0.3" stroke-width="1.2"/>
<circle cx="266.7" cy="631.5" r="6.5" fill="#ff0000" fill-opacity="0.72" stroke="#ff0000" stroke-opacity="0.3" stroke-width="1.2"/>
<circle cx="266.7" cy="631.5" r="6.5" fill="#ff0000" fill-opacity="0.72" stroke="#ff0000" stroke-opacity="0.3" stroke-width="1.2"/>
<circle cx="499.2" cy="675.1" r="6.5" fill="#ff0000" fill-opacity="0.72" stroke="#ff0000" stroke-opacity="0.3" stroke-width="1.2"/>
<circle cx="467.5" cy="694.8" r="6.5" fill="#ff0000" fill-opacity="0.72" stroke="#ff0000" stroke-opacity="0.3" stroke-width="1.2"/>
<circle cx="430.1" cy="786.9" r="6.5" fill="#ff0000" fill-opacity="0.72" stroke="#ff0000" stroke-opacity="0.3" stroke-width="1.2"/>
<circle cx="430.1" cy="786.9" r="6.5" fill="#ff0000" fill-opacity="0.72" stroke="#ff0000" stroke-opacity="0.3" stroke-width="1.2"/>
<polyline points="256,626.3 375.6,619" fill="none" stroke="#111" stroke-width="2.3" stroke-dasharray="9 8.3"/>
<polyline points="375.6,619 447.6,585.9" fill="none" stroke="#111" stroke-width="2.3" stroke-dasharray="9 8.3"/>
<polyline points="375.6,619 402,675.2" fill="none" stroke="#111" stroke-width="2.3" stroke-dasharray="9 8.3"/>
<rect x="43.6" y="433.4" width="661.1" height="398.4" fill="none" stroke="#383838" stroke-width="1.5"/>
<text x="0" y="0" font-size="19.5" font-weight="bold" font-style="normal" text-anchor="start" fill="#111" stroke="#111" stroke-width="0.3" textLength="12.0" lengthAdjust="spacingAndGlyphs" transform="translate(47,459.6) scale(1,1.08)" >B</text>
<text x="191.8" y="462" font-size="14" font-weight="normal" font-style="italic" text-anchor="start" fill="#2a2a2a" stroke="#2a2a2a" stroke-width="0.55" textLength="126.1" lengthAdjust="spacingAndGlyphs" >Alternaria linariae</text>
<text x="204.9" y="482.9" font-size="16" font-weight="normal" font-style="normal" text-anchor="start" fill="#1a1a1a" stroke="#1a1a1a" stroke-width="0.3" textLength="55.1" lengthAdjust="spacingAndGlyphs" >(<tspan font-style="italic">n</tspan> = 96)</text>
<line x1="628.3" y1="433" x2="628.3" y2="512.5" stroke="#ddd" stroke-width="1"/>
<line x1="628.3" y1="512.5" x2="705" y2="512.5" stroke="#333" stroke-width="1.6"/>
<circle cx="638.3" cy="449.2" r="7.2" fill="#4343f2"/>
<text x="0" y="0" font-size="12.8" font-weight="normal" font-style="normal" text-anchor="start" fill="#1a1a1a" stroke="#1a1a1a" stroke-width="0.3" textLength="25" lengthAdjust="spacingAndGlyphs" transform="translate(650,452) scale(1,1.17)" >HAY</text>
<circle cx="638.3" cy="464.7" r="7.2" fill="#fab43c"/>
<text x="0" y="0" font-size="12.8" font-weight="normal" font-style="normal" text-anchor="start" fill="#1a1a1a" stroke="#1a1a1a" stroke-width="0.3" textLength="27" lengthAdjust="spacingAndGlyphs" transform="translate(649.7,470.8) scale(1,1.17)" >SWA</text>
<circle cx="638.3" cy="480.8" r="7.2" fill="#484848"/>
<text x="0" y="0" font-size="12.8" font-weight="normal" font-style="normal" text-anchor="start" fill="#1a1a1a" stroke="#1a1a1a" stroke-width="0.3" textLength="28.3" lengthAdjust="spacingAndGlyphs" transform="translate(652.5,485.3) scale(1,1.17)" >MAC</text>
<circle cx="638.3" cy="497" r="7.2" fill="#ff4545"/>
<text x="0" y="0" font-size="12.8" font-weight="normal" font-style="normal" text-anchor="start" fill="#1a1a1a" stroke="#1a1a1a" stroke-width="0.3" textLength="27.5" lengthAdjust="spacingAndGlyphs" transform="translate(652.5,504.7) scale(1,1.17)" >MAD</text>
<text x="0" y="0" font-size="15.6" font-weight="normal" font-style="normal" text-anchor="middle" fill="#1a1a1a" stroke="#1a1a1a" stroke-width="0.3" textLength="101.3" lengthAdjust="spacingAndGlyphs" transform="translate(15.5,634.4) rotate(-90) scale(1,1.14)" >Axis 2 (32.6%)</text>
<text x="0" y="0" font-size="16.3" font-weight="normal" font-style="normal" text-anchor="start" fill="#1a1a1a" stroke="#1a1a1a" stroke-width="0.3" textLength="100.6" lengthAdjust="spacingAndGlyphs" transform="translate(330,870.8) scale(1,1.13)" >Axis 1 (56.3%)</text>
<rect x="523.5" y="722" width="167.5" height="100.8" fill="#fff" stroke="#333" stroke-width="1.3"/>
<rect x="530.3" y="730.8" width="44.6" height="92" fill="#000"/>
<rect x="584.3" y="797.5" width="45.5" height="25.3" fill="#000"/>
<rect x="638.3" y="818.4" width="47.7" height="4.4" fill="#ddd" stroke="#111" stroke-width="1.1"/>
<text x="0" y="0" font-size="13.4" font-weight="normal" font-style="normal" text-anchor="start" fill="#1e1e1e" stroke="#1e1e1e" stroke-width="0.3" textLength="100.8" lengthAdjust="spacingAndGlyphs" transform="translate(584.3,747.6) scale(1,1.12)" >DA eigenvalues</text>
<rect x="97.9" y="656.2" width="134.2" height="130.7" fill="#fff" stroke="none"/>
<line x1="97.9" y1="656.4" x2="232.1" y2="656.4" stroke="#ddd" stroke-width="1.2"/>
<line x1="97.9" y1="656" x2="97.9" y2="787.7" stroke="#555" stroke-width="1.6"/>
<line x1="232.1" y1="656" x2="232.1" y2="790" stroke="#444" stroke-width="1.6"/>
<line x1="97.9" y1="786.8" x2="232.1" y2="786.8" stroke="#ddd" stroke-width="1.2"/>
<g fill="#000"><rect x="101" y="756.0" width="3.6" height="27.0"/><rect x="104.4" y="740.8" width="3.2" height="42.2"/><rect x="107.4" y="727.8" width="4.1" height="55.2"/><rect x="111.3" y="718.9" width="2.8" height="64.1"/><rect x="113.9" y="710.8" width="2.8" height="72.2"/><rect x="116.5" y="704.0" width="4.2" height="79.0"/><rect x="120.5" y="698.6" width="3.2" height="84.4"/><rect x="123.5" y="694.0" width="3.1" height="89.0"/><rect x="126.4" y="689.8" width="4.4" height="93.2"/><rect x="130.6" y="687.0" width="4.1" height="96.0"/><rect x="134.5" y="683.5" width="3.4" height="99.5"/><rect x="137.7" y="681.4" width="2.7" height="101.6"/><rect x="140.2" y="677.5" width="4.0" height="105.5"/><rect x="144" y="675.4" width="3.4" height="107.6"/><rect x="147.2" y="673.9" width="5.6" height="109.1"/><rect x="152.6" y="673.3" width="4.3" height="109.7"/><rect x="156.7" y="671.2" width="5.5" height="111.8"/><rect x="162" y="669.1" width="4.5" height="113.9"/></g>
<g fill="#d3d3d3"><rect x="166.3" y="668.0" width="6.5" height="115.0"/><rect x="172.6" y="665.6" width="10.8" height="117.4"/><rect x="183.2" y="664.8" width="10.8" height="118.2"/><rect x="193.8" y="662.7" width="10.8" height="120.3"/><rect x="204.4" y="661.0" width="10.8" height="122.0"/><rect x="215" y="660.0" width="13.3" height="123.0"/></g>
<g fill="#fff"><rect x="110.4" y="657.5" width="1.6" height="126"/><rect x="119.5" y="657.5" width="1.6" height="126"/><rect x="129.5" y="657.5" width="1.6" height="126"/><rect x="138.7" y="657.5" width="1.6" height="126"/><rect x="152.1" y="657.5" width="1.6" height="126"/><rect x="161.2" y="657.5" width="1.6" height="126"/><rect x="171.79999999999998" y="657.5" width="1.6" height="126"/><rect x="181.79999999999998" y="657.5" width="1.6" height="126"/><rect x="192.6" y="657.5" width="1.6" height="126"/><rect x="203.6" y="657.5" width="1.6" height="126"/><rect x="214.2" y="657.5" width="1.6" height="126"/></g>
<line x1="92.5" y1="659.5" x2="97.9" y2="659.5" stroke="#555" stroke-width="1"/>
<line x1="92.5" y1="684.5" x2="97.9" y2="684.5" stroke="#555" stroke-width="1"/>
<line x1="92.5" y1="709.3" x2="97.9" y2="709.3" stroke="#555" stroke-width="1"/>
<line x1="92.5" y1="733.3" x2="97.9" y2="733.3" stroke="#555" stroke-width="1"/>
<line x1="92.5" y1="757.6" x2="97.9" y2="757.6" stroke="#555" stroke-width="1"/>
<line x1="92.5" y1="783" x2="97.9" y2="783" stroke="#555" stroke-width="1"/>
<line x1="98.5" y1="787" x2="98.5" y2="791" stroke="#444" stroke-width="1.2"/>
<line x1="133.4" y1="787" x2="133.4" y2="791" stroke="#444" stroke-width="1.2"/>
<line x1="165.6" y1="787" x2="165.6" y2="791" stroke="#444" stroke-width="1.2"/>
<line x1="197.4" y1="787" x2="197.4" y2="791" stroke="#444" stroke-width="1.2"/>
<line x1="230.3" y1="787" x2="230.3" y2="791" stroke="#444" stroke-width="1.2"/>
<text x="0" y="0" font-size="12.5" font-weight="normal" font-style="normal" text-anchor="middle" fill="#1e1e1e" stroke="#1e1e1e" stroke-width="0.3" transform="translate(84.5,783) rotate(-90) scale(1,1.1)" >0</text>
<text x="0" y="0" font-size="12.5" font-weight="normal" font-style="normal" text-anchor="middle" fill="#1e1e1e" stroke="#1e1e1e" stroke-width="0.3" transform="translate(84.5,757.6) rotate(-90) scale(1,1.1)" >20</text>
<text x="0" y="0" font-size="12.5" font-weight="normal" font-style="normal" text-anchor="middle" fill="#1e1e1e" stroke="#1e1e1e" stroke-width="0.3" transform="translate(84.5,733.3) rotate(-90) scale(1,1.1)" >40</text>
<text x="0" y="0" font-size="12.5" font-weight="normal" font-style="normal" text-anchor="middle" fill="#1e1e1e" stroke="#1e1e1e" stroke-width="0.3" transform="translate(84.5,709.3) rotate(-90) scale(1,1.1)" >60</text>
<text x="0" y="0" font-size="12.5" font-weight="normal" font-style="normal" text-anchor="middle" fill="#1e1e1e" stroke="#1e1e1e" stroke-width="0.3" transform="translate(84.5,684.5) rotate(-90) scale(1,1.1)" >80</text>
<text x="0" y="0" font-size="11.5" font-weight="normal" font-style="normal" text-anchor="middle" fill="#1e1e1e" stroke="#1e1e1e" stroke-width="0.3" textLength="128.5" lengthAdjust="spacingAndGlyphs" transform="translate(60.5,726.8) rotate(-90) scale(1,1.1)" >Cumulated variance (%)</text>
<text x="0" y="0" font-size="13.5" font-weight="normal" font-style="normal" text-anchor="start" fill="#1e1e1e" stroke="#1e1e1e" stroke-width="0.3" textLength="51.4" lengthAdjust="spacingAndGlyphs" transform="translate(124.2,812.9) scale(1,1.14)" >PCA axis</text>
</g>
</svg>
</body></html>
